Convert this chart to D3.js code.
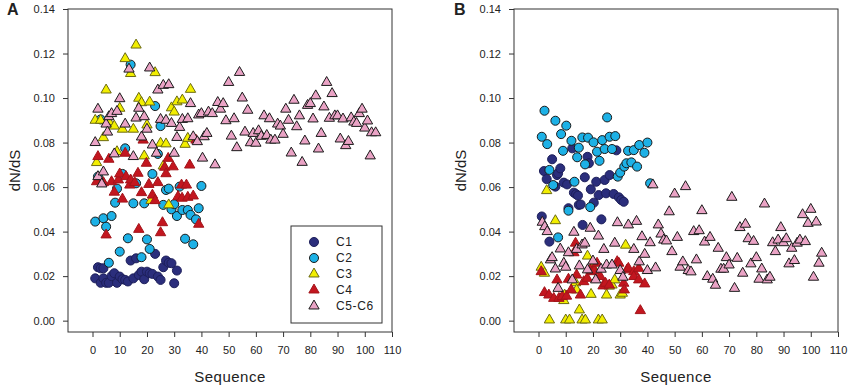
<!DOCTYPE html>
<html lang="en">
<head>
<meta charset="UTF-8" />
<title>dN/dS by sequence</title>
<style>
  body { margin: 0; background: #fff; }
  svg text { font-family: "Liberation Sans", Arial, sans-serif; fill: #222; }
</style>
</head>
<body>
<div id="chart"></div>
<script src="https://d3js.org/d3.v7.min.js"></script>
<script>
// [sequence, dN/dS] pairs
const aC1 = [[1,0.019],[2,0.024],[3,0.0235],[3,0.017],[4,0.0235],[4,0.019],[5,0.017],[6,0.017],[7,0.020],[8,0.0213],[9,0.017],[10,0.0198],[11,0.0186],[12,0.0183],[13,0.0176],[14,0.027],[15,0.019],[16,0.028],[17,0.0205],[18,0.022],[19,0.0186],[20,0.022],[21,0.0213],[22,0.021],[23,0.030],[24,0.0198],[25,0.0183],[26,0.024],[27,0.027],[28,0.026],[29,0.0258],[30,0.0168],[31,0.0225]];
const aC2 = [[1,0.0445],[2,0.0647],[3,0.0904],[4,0.046],[5,0.0422],[6,0.026],[7,0.047],[8.3,0.053],[9,0.0593],[10,0.031],[11,0.0659],[12,0.0774],[13,0.037],[14,0.115],[15,0.0527],[16,0.0617],[18,0.0285],[19,0.0527],[20,0.0365],[21,0.0322],[22,0.0659],[23,0.0964],[24,0.0749],[25,0.0874],[26,0.052],[27,0.0587],[28,0.0593],[29,0.050],[30,0.0523],[31,0.047],[32,0.0602],[33,0.0497],[34,0.0368],[35,0.0497],[36,0.0475],[37,0.0343],[38,0.0455],[39,0.0505],[40,0.0605]];
const aC3 = [[1,0.090],[1.5,0.071],[3,0.090],[4,0.0822],[5,0.1036],[6,0.0894],[8,0.0874],[9,0.0759],[10,0.0954],[11,0.086],[12,0.1177],[14,0.111],[15,0.086],[16,0.1238],[17,0.0999],[18,0.0979],[19,0.074],[20,0.0879],[21,0.0982],[21.5,0.054],[23,0.1114],[25,0.0797],[26,0.0695],[27,0.0794],[28,0.052],[29,0.0956],[30,0.0937],[31,0.0983],[33,0.0991],[34,0.0792],[35,0.0819],[36,0.1039]];
const aC4 = [[1.5,0.0624],[2,0.0737],[4,0.062],[5,0.0385],[6,0.0725],[7,0.0624],[8,0.0577],[9.5,0.0632],[10,0.0659],[11,0.0546],[12,0.0752],[12.3,0.0647],[13.7,0.0609],[14,0.0632],[15.5,0.062],[16.7,0.0662],[17,0.041],[18,0.0575],[18.6,0.0811],[19.8,0.0707],[20.7,0.0612],[22,0.0564],[23,0.0539],[24,0.062],[25,0.0395],[25.7,0.044],[26.5,0.0689],[27,0.066],[27.8,0.0729],[29.6,0.0691],[31.4,0.0557],[32.7,0.0609],[32.9,0.055],[34.5,0.0609],[35,0.0554],[35.7,0.0699],[37,0.056],[38,0.0811],[39,0.0433]];
const aC56 = [[1,0.080],[2,0.095],[2,0.0647],[3.4,0.0614],[4,0.0668],[5,0.0883],[5.5,0.0847],[6,0.0916],[7,0.093],[8,0.0749],[9,0.094],[10,0.0997],[12,0.0883],[13.4,0.113],[15,0.0737],[16,0.091],[17,0.0954],[18,0.0825],[19,0.0916],[20,0.086],[21,0.1135],[22,0.0789],[23.5,0.0752],[24,0.1036],[25,0.0904],[26,0.1057],[27,0.090],[28,0.106],[29,0.0886],[30,0.0752],[31,0.0823],[32,0.0868],[33,0.0904],[35,0.0907],[36,0.0975],[37,0.0826],[38.5,0.0804],[39,0.0924],
  [40,0.093],[40.4,0.073],[41,0.0826],[42,0.0841],[42.6,0.0937],[44,0.093],[45,0.070],[46,0.098],[47,0.095],[48,0.0975],[49,0.0898],[50,0.107],[51,0.0829],[52,0.0907],[53,0.0777],[54,0.1115],[55,0.100],[56,0.0847],[57,0.0945],[58,0.0799],[59,0.0841],[60,0.0797],[61,0.0853],[62,0.0828],[63,0.092],[64,0.0832],[65,0.0907],[65.5,0.0811],[67,0.0811],[68,0.0883],[69,0.0874],[70,0.0837],[71,0.095],[72,0.090],[73,0.0753],[74,0.099],[75,0.0871],[76,0.092],[77,0.0711],[78,0.0807],[79,0.0967],[80,0.0975],[81,0.0906],[82,0.101],[83,0.0771],[84,0.0841],[85,0.096],[86,0.107],[87,0.0909],[88,0.102],[89,0.092],[90,0.092],[91,0.0816],[92,0.0906],[93,0.0786],[94,0.0805],[95,0.0911],[96,0.0892],[97,0.0886],[98,0.093],[99,0.095],[100,0.0865],[101,0.0897],[102,0.074],[102.5,0.0844],[104,0.0844]];

const bC1 = [[1.2,0.0468],[2,0.0672],[3,0.0636],[4,0.0355],[5,0.0725],[6.2,0.0602],[6.8,0.0654],[7.2,0.0662],[8,0.0684],[9.3,0.062],[10.5,0.0612],[11,0.0505],[12.4,0.0774],[13,0.0575],[13.8,0.0568],[14.5,0.0562],[14.8,0.052],[15.5,0.0522],[16.2,0.043],[17,0.0644],[18,0.0736],[18.5,0.0707],[19.2,0.059],[20.3,0.053],[21.2,0.0624],[22.1,0.0564],[23.1,0.0455],[24.3,0.0632],[24.8,0.0572],[26.1,0.0654],[27.6,0.0569],[28.6,0.0765],[29.5,0.0554],[30.4,0.0542],[31.3,0.0534]];
const bC2 = [[1.2,0.0826],[2.2,0.0943],[3.2,0.0793],[4,0.0677],[5.4,0.0609],[6.2,0.0898],[7.2,0.0374],[8.3,0.0838],[9,0.0763],[10.2,0.0876],[11,0.0494],[12.1,0.0808],[13.2,0.0624],[14.2,0.0734],[14.8,0.0777],[16.1,0.0823],[17.1,0.0702],[18.2,0.0822],[19,0.051],[20.2,0.0801],[21.5,0.0759],[22.4,0.0718],[23.4,0.0811],[24.3,0.0771],[25.2,0.0913],[26.1,0.0826],[27,0.0771],[28.2,0.0829],[29.1,0.0647],[30,0.0665],[31.5,0.0692],[32.3,0.0707],[32.9,0.0763],[34.1,0.0711],[35,0.0766],[36.2,0.0692],[37,0.0789],[38.9,0.0754],[40,0.080],[41,0.0617]];
const bC3 = [[1,0.024],[2.2,0.0213],[3,0.0584],[4,0.0003],[6.2,0.0449],[9.3,0.009],[9.6,0.0115],[10,0.0003],[11.4,0.0003],[13.6,0.017],[14,0.0138],[15,0.0048],[16,0.0003],[17.2,0.0003],[18,0.029],[19.3,0.0118],[20,0.024],[22,0.0003],[23.4,0.0003],[25,0.0115],[26,0.0155],[27,0.016],[28,0.0183],[30,0.0115],[30.8,0.0123],[32,0.0339]];
const bC4 = [[1,0.022],[2.2,0.0126],[3.8,0.0115],[5.6,0.010],[6.8,0.0183],[7.5,0.010],[8.7,0.0108],[10.3,0.011],[11,0.0186],[12,0.0138],[13,0.0305],[13.6,0.0348],[14,0.0205],[15.4,0.0115],[16.6,0.0175],[17.9,0.019],[19,0.0228],[19.7,0.022],[20.5,0.0225],[21.5,0.0258],[22.7,0.0198],[23.7,0.0156],[24.6,0.0168],[26,0.016],[28.9,0.0265],[29.5,0.0258],[31.3,0.0168],[31.5,0.0138],[32.5,0.0228],[33,0.0235],[35,0.022],[35,0.0198],[36.8,0.0183],[36.8,0.0235],[37.4,0.0045],[39,0.0165]];
const bC56 = [[1.4,0.0442],[2.3,0.0422],[3.2,0.040],[4.4,0.0273],[5,0.0283],[6.2,0.0232],[7.2,0.0145],[8,0.0322],[9.3,0.0258],[10,0.024],[11,0.0305],[12.4,0.0183],[13,0.0397],[14,0.032],[15,0.0246],[16,0.034],[17,0.0348],[18,0.0228],[19,0.0415],[20,0.0268],[21,0.0183],[22,0.038],[23,0.0231],[24,0.032],[25,0.025],[27,0.025],[28,0.0348],[29,0.044],[30,0.0225],[31,0.0195],[33,0.043],[35,0.032],[36,0.0446],
  [37,0.0264],[38,0.0377],[39,0.0298],[40,0.0225],[41,0.035],[42,0.061],[43,0.0237],[44,0.043],[45,0.0389],[46,0.0362],[47,0.0358],[48,0.0489],[49,0.031],[50,0.0569],[51,0.0374],[52,0.024],[53,0.0264],[54,0.0602],[55,0.0225],[56,0.0219],[57,0.040],[58,0.0273],[59,0.0404],[60,0.0494],[61,0.0353],[62,0.0198],[63,0.0374],[64,0.0186],[65,0.0159],[66,0.0325],[67,0.0231],[68,0.0231],[69,0.0283],[70,0.025],[71,0.0554],[72,0.0145],[73,0.028],[74,0.0418],[75,0.0213],[76,0.0433],[77,0.0368],[78,0.0255],[79,0.0356],[80,0.0283],[81,0.0186],[82,0.0232],[83,0.0524],[84,0.0183],[85,0.0195],[86,0.035],[87,0.031],[88,0.0362],[89,0.0418],[90,0.035],[91,0.0368],[92,0.0255],[93,0.0325],[94,0.027],[95,0.0348],[96,0.0362],[97,0.0476],[98,0.0355],[99,0.0437],[100,0.050],[101,0.0195],[102,0.0443],[103,0.0258],[104,0.0303]];

const seriesNames = ["C1", "C2", "C3", "C4", "C5-C6"];
const xTicks = [0, 10, 20, 30, 40, 50, 60, 70, 80, 90, 100, 110];
const yTicks = [0, 0.02, 0.04, 0.06, 0.08, 0.10, 0.12, 0.14];

const width = 851;
const height = 387;
const plotW = 324;
const plotH = 323;

const styles = {
  "C1":    { shape: d3.symbolCircle,   size: 64, fill: "#2b2e7c", stroke: "#1d1f5a" },
  "C2":    { shape: d3.symbolCircle,   size: 64, fill: "#1db1e6", stroke: "#1a1a1a" },
  "C3":    { shape: d3.symbolTriangle, size: 46, fill: "#f2ee00", stroke: "#6b6a12" },
  "C4":    { shape: d3.symbolTriangle, size: 46, fill: "#c3161f", stroke: "#a3141a" },
  "C5-C6": { shape: d3.symbolTriangle, size: 46, fill: "#eaa3c5", stroke: "#1a1a1a" }
};

const svg = d3.select("#chart").append("svg")
  .attr("width", width)
  .attr("height", height);

const x = d3.scaleLinear().domain([-9, 110]).range([0, plotW]);
const y = d3.scaleLinear().domain([-0.0051, 0.14]).range([plotH, 0]);

function drawPanel(left, letter, letterX, data, withLegend) {
  const g = svg.append("g").attr("transform", `translate(${left},9)`);

  const yAxis = g.append("g")
    .call(d3.axisLeft(y).tickValues(yTicks).tickFormat(d3.format(".2f")).tickSize(5).tickPadding(8));
  const xAxis = g.append("g")
    .attr("transform", `translate(0,${plotH})`)
    .call(d3.axisBottom(x).tickValues(xTicks).tickSize(5).tickPadding(9));
  [yAxis, xAxis].forEach(a => {
    a.select(".domain").remove();
    a.selectAll(".tick line").attr("stroke", "#333");
    a.selectAll(".tick text").style("font-size", "11px").attr("fill", "#222");
  });

  g.append("rect")
    .attr("width", plotW)
    .attr("height", plotH)
    .attr("fill", "none")
    .attr("stroke", "#333")
    .attr("stroke-width", 1);

  seriesNames.forEach((name, i) => {
    const st = styles[name];
    g.append("g").selectAll("path")
      .data(data[i])
      .join("path")
      .attr("transform", d => `translate(${x(d[0])},${y(d[1])})`)
      .attr("d", d3.symbol().type(st.shape).size(st.size))
      .attr("fill", st.fill)
      .attr("stroke", st.stroke)
      .attr("stroke-width", 1);
  });

  // panel letter, placed in page coordinates
  svg.append("text")
    .attr("x", letterX)
    .attr("y", 15)
    .style("font-size", "16px")
    .style("font-weight", "bold")
    .text(letter);

  g.append("text")
    .attr("transform", `translate(-48,${plotH / 2}) rotate(-90)`)
    .attr("text-anchor", "middle")
    .style("font-size", "15px")
    .text("dN/dS");

  g.append("text")
    .attr("x", plotW / 2)
    .attr("y", 373)
    .attr("text-anchor", "middle")
    .style("font-size", "15px")
    .style("letter-spacing", "0.5px")
    .text("Sequence");

  if (withLegend) {
    const lg = g.append("g").attr("transform", "translate(223,217)");
    lg.append("rect")
      .attr("width", 91)
      .attr("height", 97)
      .attr("fill", "#fff")
      .attr("stroke", "#333");
    seriesNames.forEach((name, i) => {
      const st = styles[name];
      const row = lg.append("g").attr("transform", `translate(23,${16 + i * 16})`);
      row.append("path")
        .attr("d", d3.symbol().type(st.shape).size(st.size))
        .attr("fill", st.fill)
        .attr("stroke", st.stroke);
      row.append("text")
        .attr("x", 22)
        .attr("dy", "0.35em")
        .style("font-size", "12px")
        .style("letter-spacing", "0.6px")
        .text(name);
    });
  }
}

drawPanel(68, "A", 7, [aC1, aC2, aC3, aC4, aC56], true);
drawPanel(514, "B", 454, [bC1, bC2, bC3, bC4, bC56], false);
</script>
</body>
</html>
